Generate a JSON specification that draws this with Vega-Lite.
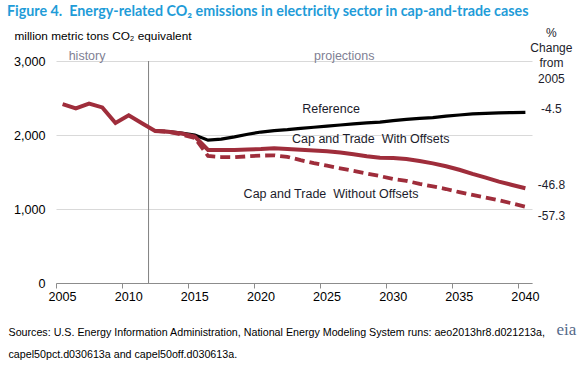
{
  "$schema": "https://vega.github.io/schema/vega-lite/v6.json",
  "width": 476,
  "height": 222,
  "autosize": "none",
  "padding": {"left": 56, "top": 61, "right": 53, "bottom": 85},
  "background": "white",
  "config": {"view": {"stroke": null}, "font": "Liberation Sans"},
  "title": {
    "text": "Figure 4.\u00a0 Energy-related CO₂ emissions in electricity sector in cap-and-trade cases",
    "anchor": "start",
    "frame": "group",
    "dx": -49,
    "offset": 8,
    "font": "Lato",
    "fontSize": 14.3,
    "fontWeight": "bold",
    "color": "#1f9cd8"
  },
  "datasets": {
    "series": [
      {"series": "Reference", "year": 2012, "value": 2055},
      {"series": "Reference", "year": 2013, "value": 2045},
      {"series": "Reference", "year": 2014, "value": 2025},
      {"series": "Reference", "year": 2015, "value": 2000},
      {"series": "Reference", "year": 2016, "value": 1930},
      {"series": "Reference", "year": 2017, "value": 1945},
      {"series": "Reference", "year": 2018, "value": 1975},
      {"series": "Reference", "year": 2019, "value": 2010},
      {"series": "Reference", "year": 2020, "value": 2040},
      {"series": "Reference", "year": 2021, "value": 2060},
      {"series": "Reference", "year": 2022, "value": 2072},
      {"series": "Reference", "year": 2023, "value": 2090},
      {"series": "Reference", "year": 2024, "value": 2105},
      {"series": "Reference", "year": 2025, "value": 2120},
      {"series": "Reference", "year": 2026, "value": 2135},
      {"series": "Reference", "year": 2027, "value": 2150},
      {"series": "Reference", "year": 2028, "value": 2163},
      {"series": "Reference", "year": 2029, "value": 2175},
      {"series": "Reference", "year": 2030, "value": 2195},
      {"series": "Reference", "year": 2031, "value": 2210},
      {"series": "Reference", "year": 2032, "value": 2225},
      {"series": "Reference", "year": 2033, "value": 2235},
      {"series": "Reference", "year": 2034, "value": 2255},
      {"series": "Reference", "year": 2035, "value": 2270},
      {"series": "Reference", "year": 2036, "value": 2285},
      {"series": "Reference", "year": 2037, "value": 2293},
      {"series": "Reference", "year": 2038, "value": 2298},
      {"series": "Reference", "year": 2039, "value": 2303},
      {"series": "Reference", "year": 2040, "value": 2307},
      {"series": "Without", "year": 2012, "value": 2055},
      {"series": "Without", "year": 2013, "value": 2045},
      {"series": "Without", "year": 2014, "value": 2005},
      {"series": "Without", "year": 2015, "value": 1960},
      {"series": "Without", "year": 2016, "value": 1716},
      {"series": "Without", "year": 2017, "value": 1702},
      {"series": "Without", "year": 2018, "value": 1700},
      {"series": "Without", "year": 2019, "value": 1712},
      {"series": "Without", "year": 2020, "value": 1722},
      {"series": "Without", "year": 2021, "value": 1725},
      {"series": "Without", "year": 2022, "value": 1705},
      {"series": "Without", "year": 2023, "value": 1660},
      {"series": "Without", "year": 2024, "value": 1620},
      {"series": "Without", "year": 2025, "value": 1585},
      {"series": "Without", "year": 2026, "value": 1550},
      {"series": "Without", "year": 2027, "value": 1515},
      {"series": "Without", "year": 2028, "value": 1480},
      {"series": "Without", "year": 2029, "value": 1445},
      {"series": "Without", "year": 2030, "value": 1405},
      {"series": "Without", "year": 2031, "value": 1380},
      {"series": "Without", "year": 2032, "value": 1340},
      {"series": "Without", "year": 2033, "value": 1305},
      {"series": "Without", "year": 2034, "value": 1270},
      {"series": "Without", "year": 2035, "value": 1228},
      {"series": "Without", "year": 2036, "value": 1190},
      {"series": "Without", "year": 2037, "value": 1155},
      {"series": "Without", "year": 2038, "value": 1118},
      {"series": "Without", "year": 2039, "value": 1075},
      {"series": "Without", "year": 2040, "value": 1030},
      {"series": "With", "year": 2005, "value": 2416},
      {"series": "With", "year": 2006, "value": 2360},
      {"series": "With", "year": 2007, "value": 2425},
      {"series": "With", "year": 2008, "value": 2373},
      {"series": "With", "year": 2009, "value": 2162},
      {"series": "With", "year": 2010, "value": 2265},
      {"series": "With", "year": 2011, "value": 2158},
      {"series": "With", "year": 2012, "value": 2055},
      {"series": "With", "year": 2013, "value": 2045},
      {"series": "With", "year": 2014, "value": 2020},
      {"series": "With", "year": 2015, "value": 1980},
      {"series": "With", "year": 2016, "value": 1797},
      {"series": "With", "year": 2017, "value": 1797},
      {"series": "With", "year": 2018, "value": 1797},
      {"series": "With", "year": 2019, "value": 1805},
      {"series": "With", "year": 2020, "value": 1810},
      {"series": "With", "year": 2021, "value": 1820},
      {"series": "With", "year": 2022, "value": 1812},
      {"series": "With", "year": 2023, "value": 1800},
      {"series": "With", "year": 2024, "value": 1790},
      {"series": "With", "year": 2025, "value": 1780},
      {"series": "With", "year": 2026, "value": 1762},
      {"series": "With", "year": 2027, "value": 1740},
      {"series": "With", "year": 2028, "value": 1712},
      {"series": "With", "year": 2029, "value": 1692},
      {"series": "With", "year": 2030, "value": 1688},
      {"series": "With", "year": 2031, "value": 1675},
      {"series": "With", "year": 2032, "value": 1648},
      {"series": "With", "year": 2033, "value": 1617},
      {"series": "With", "year": 2034, "value": 1578},
      {"series": "With", "year": 2035, "value": 1530},
      {"series": "With", "year": 2036, "value": 1475},
      {"series": "With", "year": 2037, "value": 1425},
      {"series": "With", "year": 2038, "value": 1370},
      {"series": "With", "year": 2039, "value": 1325},
      {"series": "With", "year": 2040, "value": 1280}
    ],
    "notes": [
      {"label": "history", "year": 2007, "value": 3070, "group": "era-left"},
      {"label": "projections", "year": 2026, "value": 3070, "group": "era"},
      {"label": "Reference", "year": 2025, "value": 2347, "group": "line"},
      {"label": "Cap and Trade\u00a0 With Offsets", "year": 2028, "value": 1945, "group": "line"},
      {"label": "Cap and Trade\u00a0 Without Offsets", "year": 2025, "value": 1202, "group": "line"},
      {"label": "%", "year": 2040, "value": 3380, "group": "end"},
      {"label": "Change", "year": 2040, "value": 3175, "group": "end"},
      {"label": "from", "year": 2040, "value": 2972, "group": "end"},
      {"label": "2005", "year": 2040, "value": 2760, "group": "end"},
      {"label": "-4.5", "year": 2040, "value": 2350, "group": "end"},
      {"label": "-46.8", "year": 2040, "value": 1324, "group": "end"},
      {"label": "-57.3", "year": 2040, "value": 909, "group": "end"},
      {"label": "eia", "year": 2040, "value": -700, "group": "logo"}
    ]
  },
  "layer": [
    {
      "data": {"name": "series"},
      "transform": [{"filter": "datum.series === 'Reference'"}],
      "mark": {"type": "line", "color": "#000000", "strokeWidth": 3.2},
      "encoding": {
        "x": {
          "field": "year",
          "type": "ordinal",
          "bandPosition": 0.5,
          "scale": {"type": "band", "paddingInner": 0, "paddingOuter": 0},
          "axis": {
            "values": [2005, 2010, 2015, 2020, 2025, 2030, 2035, 2040],
            "bandPosition": 0,
            "labelAngle": 0,
            "domainColor": "#8c8c8c",
            "tickColor": "#8c8c8c",
            "tickSize": 5,
            "labelFontSize": 12.6,
            "labelColor": "#000000",
            "labelPadding": 2,
            "grid": false,
            "title": ["Sources: U.S. Energy Information Administration, National Energy Modeling System runs: aeo2013hr8.d021213a,", "capel50pct.d030613a and capel50off.d030613a."],
            "titleFont": "Liberation Sans",
            "titleFontSize": 10.7,
            "titleFontWeight": "normal",
            "titleColor": "#000000",
            "titleAlign": "left",
            "titleAnchor": "start",
            "titleBaseline": "alphabetic",
            "titleLineHeight": 22,
            "titleX": -48,
            "titleY": 52
          }
        },
        "y": {
          "field": "value",
          "type": "quantitative",
          "scale": {"domain": [0, 3000]},
          "axis": {
            "values": [0, 500, 1000, 1500, 2000, 2500, 3000],
            "format": ",.0f",
            "grid": true,
            "gridColor": "#d9d9d9",
            "domain": false,
            "ticks": false,
            "labelPadding": 11,
            "labelFontSize": 12.6,
            "labelColor": "#000000",
            "title": "million metric tons CO₂ equivalent",
            "titleAngle": 0,
            "titleAlign": "left",
            "titleBaseline": "middle",
            "titleAnchor": "start",
            "titleX": -42,
            "titleY": -26,
            "titleFontSize": 11.8,
            "titleFontWeight": "normal",
            "titleColor": "#000000"
          }
        }
      }
    },
    {
      "data": {"values": [{"year": 2012}]},
      "mark": {"type": "rule", "color": "#808080", "strokeWidth": 1},
      "encoding": {
        "x": {"field": "year", "type": "ordinal", "bandPosition": 0}
      }
    },
    {
      "data": {"name": "series"},
      "transform": [{"filter": "datum.series === 'Without'"}],
      "mark": {"type": "line", "color": "#9f2d3b", "strokeWidth": 3.8, "strokeDash": [10, 5]},
      "encoding": {
        "x": {"field": "year", "type": "ordinal", "bandPosition": 0.5},
        "y": {"field": "value", "type": "quantitative"}
      }
    },
    {
      "data": {"name": "series"},
      "transform": [{"filter": "datum.series === 'With'"}],
      "mark": {"type": "line", "color": "#9f2d3b", "strokeWidth": 4},
      "encoding": {
        "x": {"field": "year", "type": "ordinal", "bandPosition": 0.5},
        "y": {"field": "value", "type": "quantitative"}
      }
    },
    {
      "data": {"name": "notes"},
      "transform": [{"filter": "datum.group === 'era-left'"}],
      "mark": {"type": "text", "color": "#7f7f94", "fontSize": 12.5, "dx": -2, "align": "center", "baseline": "middle"},
      "encoding": {
        "x": {"field": "year", "type": "ordinal", "bandPosition": 0.5},
        "y": {"field": "value", "type": "quantitative"},
        "text": {"field": "label"}
      }
    },
    {
      "data": {"name": "notes"},
      "transform": [{"filter": "datum.group === 'era'"}],
      "mark": {"type": "text", "color": "#7f7f94", "fontSize": 12.5, "dx": 4, "align": "center", "baseline": "middle"},
      "encoding": {
        "x": {"field": "year", "type": "ordinal", "bandPosition": 0.5},
        "y": {"field": "value", "type": "quantitative"},
        "text": {"field": "label"}
      }
    },
    {
      "data": {"name": "notes"},
      "transform": [{"filter": "datum.group === 'line'"}],
      "mark": {"type": "text", "color": "#1c1c2c", "fontSize": 12.5, "dx": 4, "align": "center", "baseline": "middle"},
      "encoding": {
        "x": {"field": "year", "type": "ordinal", "bandPosition": 0.5},
        "y": {"field": "value", "type": "quantitative"},
        "text": {"field": "label"}
      }
    },
    {
      "data": {"name": "notes"},
      "transform": [{"filter": "datum.group === 'end'"}],
      "mark": {"type": "text", "color": "#1c1c2c", "fontSize": 12, "dx": 26, "align": "center", "baseline": "middle"},
      "encoding": {
        "x": {"field": "year", "type": "ordinal", "bandPosition": 0.5},
        "y": {"field": "value", "type": "quantitative"},
        "text": {"field": "label"}
      }
    },
    {
      "data": {"name": "notes"},
      "transform": [{"filter": "datum.group === 'logo'"}],
      "mark": {"type": "text", "color": "#55698a", "font": "Liberation Serif", "fontSize": 17, "dx": 41, "align": "center", "baseline": "alphabetic"},
      "encoding": {
        "x": {"field": "year", "type": "ordinal", "bandPosition": 0.5},
        "y": {"field": "value", "type": "quantitative"},
        "text": {"field": "label"}
      }
    }
  ]
}
